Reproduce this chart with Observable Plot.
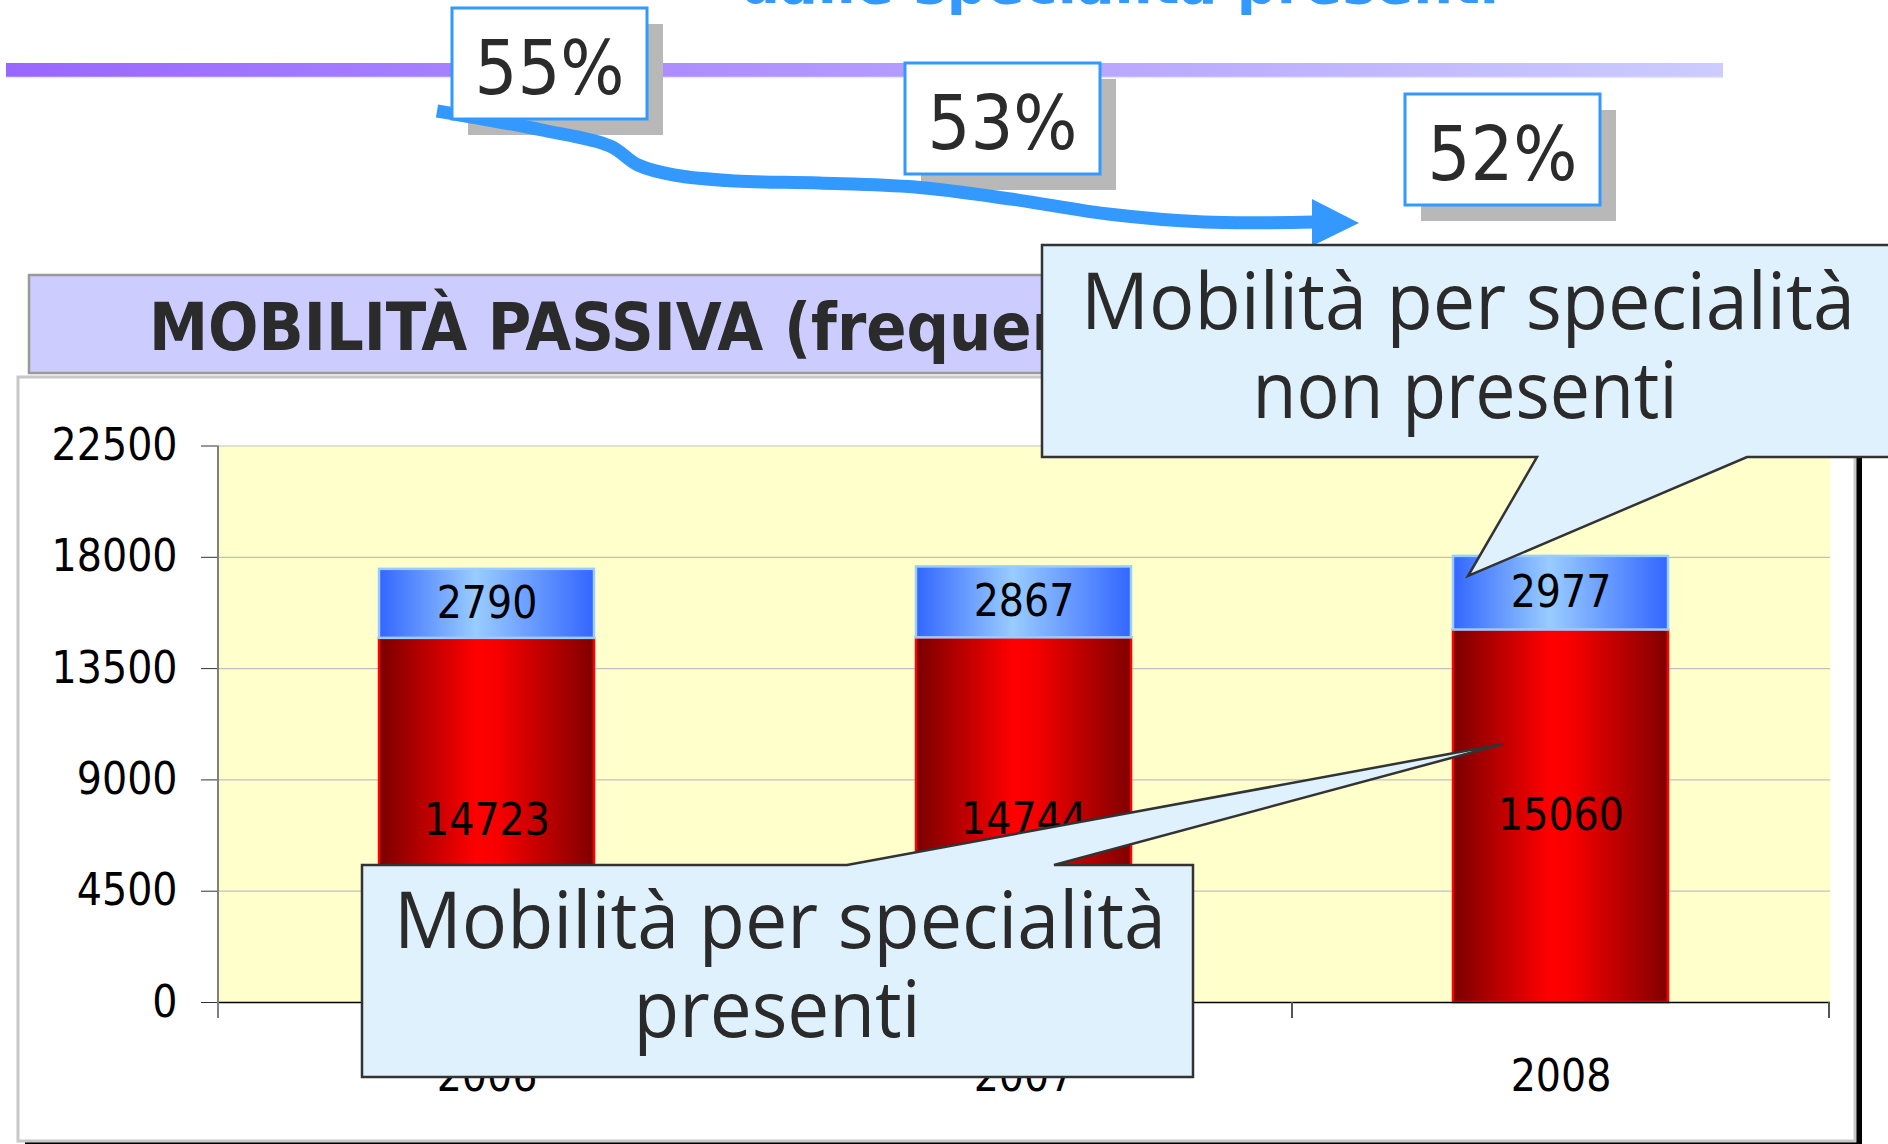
<!DOCTYPE html>
<html><head><meta charset="utf-8">
<script src="https://cdn.jsdelivr.net/npm/d3@7"></script>
<script src="https://cdn.jsdelivr.net/npm/@observablehq/plot@0.6"></script>
<style>
html,body{margin:0;padding:0;background:#fff;overflow:hidden}
#wrap{position:relative;width:1888px;height:1144px;overflow:hidden;background:#fff}
#wrap > svg{position:absolute;left:0;top:0}
</style></head><body><div id="wrap"></div>
<script>
// ---- data ----
const years = ["2006", "2007", "2008"];
const presenti = [14723, 14744, 15060];
const nonPresenti = [2790, 2867, 2977];
const yTicks = [0, 4500, 9000, 13500, 18000, 22500];
const shares = ["55%", "53%", "52%"];
const chartTitle = "MOBILITÀ PASSIVA (frequenze)";
const topTitle = "dalle specialità presenti";
const calloutTop = ["Mobilità per specialità", "non presenti"];
const calloutBottom = ["Mobilità per specialità", "presenti"];

const rows = [];
years.forEach((y, i) => {
  rows.push({year: y, type: "presenti", value: presenti[i]});
  rows.push({year: y, type: "non presenti", value: nonPresenti[i]});
});

const NS = "http://www.w3.org/2000/svg";
function el(tag, attrs, parent, text) {
  const e = document.createElementNS(NS, tag);
  for (const k in attrs) e.setAttribute(k, attrs[k]);
  if (text != null) e.textContent = text;
  if (parent) parent.appendChild(e);
  return e;
}
const W = 1888, H = 1144;
const wrap = document.getElementById("wrap");
const condensed = "'DejaVu Sans Condensed', 'DejaVu Sans', sans-serif";
const handFont = "'Comic Sans MS', 'Open Sans', sans-serif";

// ---- background decoration layer ----
const deco = el("svg", {width: W, height: H, viewBox: `0 0 ${W} ${H}`}, wrap);
const dd = el("defs", {}, deco);
const pg = el("linearGradient", {id: "gPurple", x1: 0, x2: 1, y1: 0, y2: 0}, dd);
el("stop", {offset: 0, "stop-color": "#9966ff"}, pg);
el("stop", {offset: 1, "stop-color": "#ccccff"}, pg);

// top title (mostly cut off at top edge)
el("text", {x: 740, y: 3, "font-family": "'DejaVu Sans', sans-serif", "font-weight": "bold",
  "font-size": 56, fill: "#3399ff", textLength: 759, lengthAdjust: "spacingAndGlyphs"}, deco, topTitle);
// purple rule
el("rect", {x: 6, y: 63, width: 1717, height: 15, fill: "url(#gPurple)"}, deco);
el("line", {x1: 6, x2: 1723, y1: 77.5, y2: 77.5, stroke: "#e6e6ff", "stroke-width": 1.5}, deco);

// percent boxes
const boxes = [{x: 452, y: 8}, {x: 905, y: 63}, {x: 1405, y: 94}];
boxes.forEach(b => el("rect", {x: b.x + 16, y: b.y + 16, width: 195, height: 111, fill: "#b8b8b8"}, deco));
// blue arrow
const arrowPts = [[437,111],[542,130],[610,146],[638,165],[674,175],[735,181],[819,183],[915,187],[1011,199],[1108,214],[1204,222],[1314,222]];
el("path", {d: d3.line().curve(d3.curveCatmullRom)(arrowPts), fill: "none", stroke: "#3399ff", "stroke-width": 13}, deco);
el("path", {d: "M1312,199 L1359,223 L1312,246 Z", fill: "#3399ff"}, deco);
boxes.forEach((b, i) => {
  el("rect", {x: b.x, y: b.y, width: 195, height: 111, fill: "#fff", stroke: "#3399ff", "stroke-width": 3}, deco);
  el("text", {x: b.x + 97.5, y: b.y + 86, "text-anchor": "middle", "font-family": condensed,
    "font-size": 75, fill: "#2b2b2b"}, deco, shares[i]);
});

// title banner
el("rect", {x: 29, y: 275, width: 1100, height: 98, fill: "#ccccff", stroke: "#999999", "stroke-width": 2.5}, deco);
el("text", {x: 149, y: 350, "font-family": condensed, "font-weight": "bold", "font-size": 66, fill: "#2b2b2b"}, deco, chartTitle);

// chart frame with black shadow
el("rect", {x: 25, y: 384, width: 1837, height: 764, fill: "#000"}, deco);
el("rect", {x: 18, y: 377, width: 1837, height: 764, fill: "#fff", stroke: "#c8c8c8", "stroke-width": 3}, deco);

// ---- the chart ----
const chart = Plot.plot({
  width: W,
  height: H,
  marginLeft: 217,
  marginRight: 58,
  marginTop: 445.5,
  marginBottom: 142,
  style: {background: "transparent", fontFamily: condensed, fontSize: "44px", overflow: "visible"},
  x: {domain: years, paddingInner: 0.6, paddingOuter: 0.3, label: null},
  y: {domain: [0, 22500], label: null},
  color: {type: "identity"},
  marks: [
    Plot.frame({fill: "#ffffcc", stroke: "none"}),
    Plot.gridY(yTicks, {stroke: "#c0c0c0", strokeOpacity: 1, strokeWidth: 1.2}),
    Plot.barY(rows, Plot.stackY({
      x: "year", y: "value", z: "type",
      fill: d => d.type === "presenti" ? "url(#gRed)" : "url(#gBlue)",
      stroke: d => d.type === "presenti" ? "#ff0000" : "#99ccff",
      strokeWidth: 2.5
    })),
    Plot.text(rows, Plot.stackY({
      x: "year", y: "value", z: "type", text: d => String(d.value), fill: "#000", fontSize: 44
    })),
    Plot.ruleY([0], {stroke: "#000", strokeWidth: 1.5}),
    Plot.axisY({ticks: yTicks, tickSize: 16, tickPadding: 24, tickFormat: d3.format("d"),
      stroke: "#333", fill: "#000", fontSize: 44, label: null}),
    Plot.axisX({tickSize: 0, tickPadding: 57, fill: "#000", fontSize: 44, label: null})
  ]
});
wrap.appendChild(chart);

// gradients for bars
const cd = el("defs", {}, null);
chart.insertBefore(cd, chart.firstChild);
const rg = el("linearGradient", {id: "gRed", x1: 0, x2: 1, y1: 0, y2: 0}, cd);
el("stop", {offset: 0, "stop-color": "#7a0000"}, rg);
el("stop", {offset: 0.45, "stop-color": "#ff0000"}, rg);
el("stop", {offset: 0.55, "stop-color": "#f80000"}, rg);
el("stop", {offset: 1, "stop-color": "#800000"}, rg);
const bg = el("linearGradient", {id: "gBlue", x1: 0, x2: 1, y1: 0, y2: 0}, cd);
el("stop", {offset: 0, "stop-color": "#3366ff"}, bg);
el("stop", {offset: 0.45, "stop-color": "#99ccff"}, bg);
el("stop", {offset: 1, "stop-color": "#3366ff"}, bg);

// ---- overlay: axis lines, category boundary ticks, callouts ----
const ov = el("svg", {width: W, height: H, viewBox: `0 0 ${W} ${H}`}, wrap);
const xs = chart.scale("x"), ys = chart.scale("y");
const y0 = ys.apply(0), yTop = ys.apply(22500);
const left = xs.apply(years[0]) + xs.bandwidth / 2 - xs.step / 2;
el("line", {x1: left, x2: left, y1: yTop, y2: y0 + 16, stroke: "#808080", "stroke-width": 2}, ov);
for (let i = 1; i <= years.length; i++) {
  const bx = left + i * xs.step;
  el("line", {x1: bx, x2: bx, y1: y0, y2: y0 + 16, stroke: "#555", "stroke-width": 2}, ov);
}

function callout(d, lines, cx, baselines, lengths) {
  el("path", {d, fill: "#dff1fd", stroke: "#333", "stroke-width": 2.5, "stroke-linejoin": "miter"}, ov);
  lines.forEach((t, i) => el("text", {x: cx[i], y: baselines[i], "text-anchor": "middle",
    "font-family": handFont, "font-size": 78, fill: "#2a2a2a",
    textLength: lengths[i], lengthAdjust: "spacingAndGlyphs"}, ov, t));
}
callout("M1042,245 H1905 V457 H1747 L1468,576 L1537,457 H1042 Z", calloutTop, [1468, 1465], [329, 418], [774, 425]);
callout("M362,865 H847 L1503,744 L1054,865 H1193 V1077 H362 Z", calloutBottom, [780, 777], [948, 1037], [772, 287]);
</script></body></html>
